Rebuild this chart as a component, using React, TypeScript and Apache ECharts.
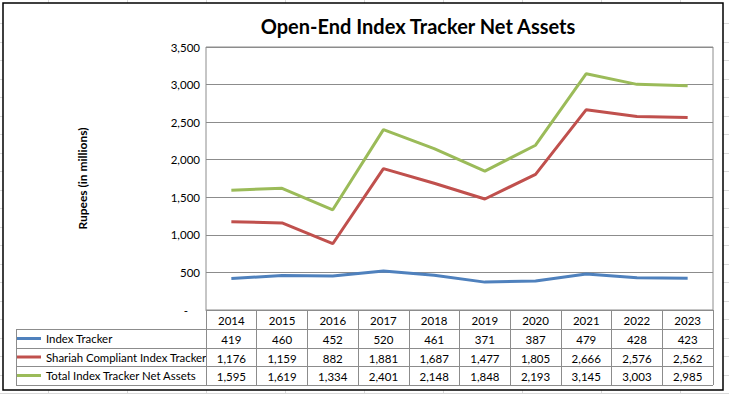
import React, { useEffect, useRef } from "react";
import * as echarts from "echarts";

const years = ["2014", "2015", "2016", "2017", "2018", "2019", "2020", "2021", "2022", "2023"];
const indexTracker = [419, 460, 452, 520, 461, 371, 387, 479, 428, 423];
const shariahTracker = [1176, 1159, 882, 1881, 1687, 1477, 1805, 2666, 2576, 2562];
const totalNetAssets = [1595, 1619, 1334, 2401, 2148, 1848, 2193, 3145, 3003, 2985];
const seriesNames = ["Index Tracker", "Shariah Compliant Index Tracker", "Total Index Tracker Net Assets"];
const seriesColors = ["#4f81bd", "#c0504d", "#9bbb59"];
const yTicks = [0, 500, 1000, 1500, 2000, 2500, 3000, 3500];

const FONT = "Lato, 'Open Sans', sans-serif";
const fmt = (v: number) => v.toLocaleString("en-US");

export default function App() {
  const ref = useRef<HTMLDivElement>(null);
  useEffect(() => {
    if (!ref.current) return;
    const chart = echarts.init(ref.current, null, { renderer: "svg" });
    const seriesData = [indexTracker, shariahTracker, totalNetAssets];
    const gridLeft = 206, gridRight = 713, gridTop = 47, gridBottom = 310;
    const rowLines = [329, 348, 366, 385];
    const rowOffsets = [19, 38, 56];

    const bg: any[] = [];
    for (let x = 48; x < 729; x += 79) {
      bg.push({ type: "line", z: -20, shape: { x1: x + 0.5, y1: 0, x2: x + 0.5, y2: 394 }, style: { stroke: "#d9d9d9", lineWidth: 1 } });
    }
    for (let y = 23; y < 394; y += 18.5) {
      bg.push({ type: "line", z: -20, shape: { x1: 0, y1: Math.round(y) + 0.5, x2: 729, y2: Math.round(y) + 0.5 }, style: { stroke: "#d9d9d9", lineWidth: 1 } });
    }
    bg.push({ type: "rect", z: -10, shape: { x: 3, y: 3, width: 720, height: 387 }, style: { fill: "#ffffff", stroke: "#000000", lineWidth: 1.5 } });

    const tableLines: any[] = rowLines.map((y) => ({
      type: "line", z: 5,
      shape: { x1: 16, y1: y + 0.5, x2: gridRight, y2: y + 0.5 },
      style: { stroke: "#8c8c8c", lineWidth: 1 },
    }));
    tableLines.push({ type: "line", z: 5, shape: { x1: 16.5, y1: rowLines[0], x2: 16.5, y2: rowLines[3] + 0.5 }, style: { stroke: "#8c8c8c", lineWidth: 1 } });
    tableLines.push({ type: "line", z: 5, shape: { x1: gridLeft + 0.5, y1: gridBottom, x2: gridLeft + 0.5, y2: rowLines[3] + 0.5 }, style: { stroke: "#8c8c8c", lineWidth: 1 } });

    const legends = seriesNames.map((name, i) => ({
      orient: "horizontal",
      left: 17,
      top: (rowLines[i] + rowLines[i + 1]) / 2 - 8,
      icon: "rect",
      itemWidth: 24,
      itemHeight: 3,
      itemGap: 2,
      selectedMode: false,
      data: [name],
      padding: 0,
      textStyle: { fontSize: 11.4, color: "#000", fontFamily: FONT, lineHeight: 16 },
    }));

    const option: any = {
      animation: false,
      backgroundColor: "transparent",
      textStyle: { fontFamily: FONT },
      graphic: [
        ...bg,
        ...tableLines,
        {
          type: "text", z: 10, x: 418, y: 26,
          style: { text: "Open-End Index Tracker Net Assets", font: `bold 20px ${FONT}`, fill: "#000", textAlign: "center", textVerticalAlign: "middle" },
        },
      ],
      legend: legends,
      grid: {
        left: gridLeft, right: 729 - gridRight, top: gridTop, bottom: 394 - gridBottom,
        show: true, borderColor: "#8c8c8c", borderWidth: 1, containLabel: false,
      },
      xAxis: [
        {
          type: "category", data: years, position: "bottom", boundaryGap: true,
          axisLine: { show: true, lineStyle: { color: "#8c8c8c" } },
          axisTick: { show: true, alignWithLabel: false, length: rowLines[3] - gridBottom, lineStyle: { color: "#8c8c8c" } },
          axisLabel: { fontSize: 11.5, color: "#000", margin: 4, fontFamily: FONT },
        },
        ...seriesData.map((arr, i) => ({
          type: "category", data: arr.map(fmt), position: "bottom", offset: rowOffsets[i], boundaryGap: true,
          axisLine: { show: false }, axisTick: { show: false }, splitLine: { show: false },
          axisLabel: { fontSize: 11.5, color: "#000", margin: 4, fontFamily: FONT },
        })),
      ],
      yAxis: {
        type: "value", min: yTicks[0], max: yTicks[yTicks.length - 1], interval: yTicks[1] - yTicks[0],
        name: "Rupees (in millions)", nameLocation: "middle", nameRotate: 90, nameGap: 118,
        nameTextStyle: { fontSize: 12, fontWeight: "bold", color: "#000", fontFamily: FONT },
        axisLine: { show: false }, axisTick: { show: false },
        splitLine: { show: true, lineStyle: { color: "#8c8c8c", width: 1 } },
        axisLabel: {
          fontSize: 11.5, color: "#000", margin: 6, fontFamily: FONT,
          formatter: (v: number) => (v === 0 ? "{d|-}" : fmt(v)),
          rich: { d: { fontSize: 11.5, color: "#000", padding: [0, 12, 0, 0] } },
        },
      },
      series: seriesNames.map((name, i) => ({
        name, type: "line", xAxisIndex: 0, data: seriesData[i], symbol: "none", z: 3,
        color: seriesColors[i],
        lineStyle: { color: seriesColors[i], width: 3 },
        itemStyle: { color: seriesColors[i] },
      })),
    };
    chart.setOption(option);
    return () => chart.dispose();
  }, []);
  return (
    <div style={{ position: "absolute", left: 0, top: 0, width: 729, height: 394, background: "#fff" }}>
      <div ref={ref} style={{ width: 729, height: 394 }} />
    </div>
  );
}
